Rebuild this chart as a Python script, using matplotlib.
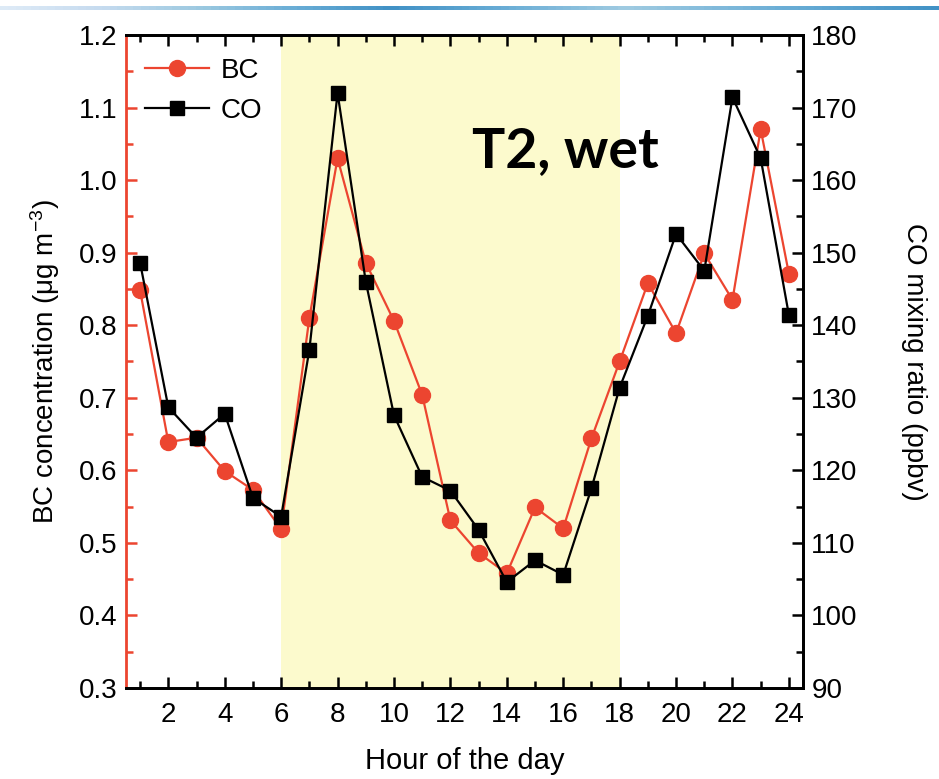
import matplotlib
matplotlib.use("Agg")
import matplotlib.pyplot as plt
import numpy as np
from matplotlib.ticker import MultipleLocator

plt.rcParams['font.family'] = ['Liberation Sans', 'DejaVu Sans']
plt.rcParams['mathtext.default'] = 'regular'

hours = list(range(1, 25))
bc = [0.848, 0.639, 0.645, 0.599, 0.573, 0.519, 0.810, 1.030, 0.886, 0.806, 0.704, 0.531,
      0.486, 0.458, 0.549, 0.520, 0.644, 0.750, 0.858, 0.789, 0.899, 0.835, 1.070, 0.871]
co = [148.6, 128.7, 124.5, 127.8, 116.2, 113.6, 136.6, 172.0, 146.0, 127.6, 119.1, 117.2,
      111.8, 104.6, 107.6, 105.6, 117.5, 131.4, 141.3, 152.6, 147.5, 171.4, 163.0, 141.4]
shade = (6, 18)

RED = '#EC4530'
FS = 20

fig = plt.figure(figsize=(9.39, 7.79), dpi=100)

# slide decoration bar at top
bar = fig.add_axes([0, 1 - 10/779, 1, 4/779])
grad = np.concatenate([np.linspace(0.2, 1, 50), np.linspace(1, 0.6, 30), np.linspace(0.6, 1, 40)])
bar.imshow(grad[None, :], aspect='auto', cmap='Blues', vmin=0, vmax=1.6)
bar.axis('off')

ax = fig.add_axes([126/939, 1 - 688/779, (803-126)/939, (688-35)/779])
ax2 = ax.twinx()

ax.axvspan(shade[0], shade[1], color='#FCFACD', zorder=0, lw=0)

l1, = ax.plot(hours, bc, '-o', color=RED, lw=1.6, ms=11.5, mec=RED, label='BC', zorder=3)
l2, = ax2.plot(hours, co, '-s', color='black', lw=1.6, ms=10.5, label='CO', zorder=3)

ax.set_xlim(0.5, 24.5)
ax.set_ylim(0.3, 1.2)
ax2.set_ylim(90, 180)

ax.xaxis.set_major_locator(MultipleLocator(2))
ax.xaxis.set_minor_locator(MultipleLocator(1))
ax.yaxis.set_major_locator(MultipleLocator(0.1))
ax.yaxis.set_minor_locator(MultipleLocator(0.05))
ax2.yaxis.set_major_locator(MultipleLocator(10))
ax2.yaxis.set_minor_locator(MultipleLocator(5))
ax.yaxis.set_major_formatter(matplotlib.ticker.FormatStrFormatter('%.1f'))

ax.tick_params(axis='x', which='both', direction='in', top=True, labelsize=FS, color='black', width=1.8, pad=10)
ax.tick_params(axis='x', which='major', length=8)
ax.tick_params(axis='x', which='minor', length=5)
ax.tick_params(axis='y', which='both', direction='in', colors=RED, labelcolor='black', labelsize=FS, width=1.8, pad=6)
ax.tick_params(axis='y', which='major', length=8)
ax.tick_params(axis='y', which='minor', length=5)
ax2.tick_params(axis='y', which='both', direction='in', labelsize=FS, width=1.8, pad=6)
ax2.tick_params(axis='y', which='major', length=8)
ax2.tick_params(axis='y', which='minor', length=5)

for s in ['top', 'bottom', 'right']:
    ax2.spines[s].set_linewidth(2.0)
    ax.spines[s].set_linewidth(2.0)
ax.spines['left'].set_color(RED)
ax.spines['left'].set_linewidth(2.0)
ax2.spines['left'].set_visible(False)

ax.set_xlabel('Hour of the day', fontsize=21, labelpad=14)
ax.set_ylabel('BC concentration (μg m$^{-3}$)', fontsize=FS, labelpad=12)
ax2.set_ylabel('CO mixing ratio (ppbv)', fontsize=FS, rotation=270, labelpad=50)

ax.text(12.75, 1.018, 'T2, wet', fontsize=40, fontweight='bold', family=['Lato', 'DejaVu Sans'], zorder=5)

leg = ax.legend(handles=[l1, l2], loc='upper left', frameon=False, fontsize=FS,
                handlelength=2.3, handletextpad=0.4, borderaxespad=0.3, labelspacing=0.5,
                bbox_to_anchor=(0.0, 0.995))

fig.savefig('out.png', dpi=100)
